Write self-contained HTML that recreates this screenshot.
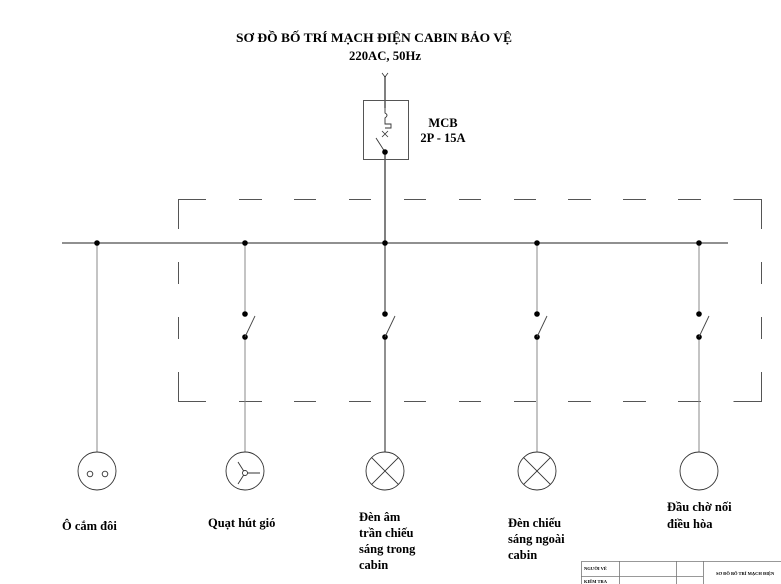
<!DOCTYPE html>
<html><head><meta charset="utf-8"><style>
html,body{margin:0;padding:0;background:#fff;width:781px;height:584px;overflow:hidden}
svg{display:block}
text{font-family:"Liberation Serif",serif;font-weight:bold;fill:#000}
</style></head><body>
<svg width="781" height="584" viewBox="0 0 781 584" xmlns="http://www.w3.org/2000/svg">
<text x="374" y="42" font-size="12.5" text-anchor="middle" textLength="276" lengthAdjust="spacingAndGlyphs">SƠ ĐỒ BỐ TRÍ MẠCH ĐIỆN CABIN BẢO VỆ</text>
<text x="385" y="60" font-size="12.5" text-anchor="middle" textLength="72" lengthAdjust="spacingAndGlyphs">220AC, 50Hz</text>
<!-- incoming -->
<path d="M382 73 L385 77 L388 73" fill="none" stroke="#333" stroke-width="0.8"/>
<line x1="385" y1="76" x2="385" y2="108" stroke="#000" stroke-width="1"/>
<line x1="385" y1="152" x2="385" y2="243" stroke="#000" stroke-width="1"/>
<rect x="363.5" y="100.5" width="45" height="59" fill="none" stroke="#555" stroke-width="1"/>
<path d="M385 108 L385 113 Q389 115 385 118 L385 124 L391 124 L391 128 L385 128" fill="none" stroke="#333" stroke-width="0.9"/>
<path d="M382 131 L388 137 M388 131 L382 137" stroke="#333" stroke-width="0.8"/>
<line x1="376" y1="138" x2="385" y2="152" stroke="#333" stroke-width="0.9"/>
<circle cx="385" cy="152" r="2.8" fill="#000"/>
<text x="443" y="127" font-size="12.5" text-anchor="middle">MCB</text>
<text x="443" y="142" font-size="12.5" text-anchor="middle">2P - 15A</text>
<!-- dashed box -->
<g stroke="#555" stroke-width="1" fill="none">
<path d="M178.5 229 L178.5 199.5 L206 199.5"/>
<path d="M239 199.5H262M294 199.5H316M349 199.5H371M404 199.5H426M459 199.5H481M514 199.5H536M568 199.5H591M623 199.5H646M678 199.5H701"/>
<path d="M733.5 199.5 L761.5 199.5 L761.5 229"/>
<path d="M178.5 372 L178.5 401.5 L206 401.5"/>
<path d="M239 401.5H262M294 401.5H316M349 401.5H371M404 401.5H426M459 401.5H481M514 401.5H536M568 401.5H591M623 401.5H646M678 401.5H701"/>
<path d="M733.5 401.5 L761.5 401.5 L761.5 372"/>
<path d="M178.5 262V284M178.5 317V339M761.5 262V284M761.5 317V339"/>
</g>
<!-- bus -->
<line x1="62" y1="243" x2="728" y2="243" stroke="#222" stroke-width="1"/>
<g stroke="#888" stroke-width="1">
<line x1="97" y1="243" x2="97" y2="452"/>
<line x1="245" y1="243" x2="245" y2="314"/><line x1="245" y1="337" x2="245" y2="452"/>
<line x1="537" y1="243" x2="537" y2="314"/><line x1="537" y1="337" x2="537" y2="452"/>
<line x1="699" y1="243" x2="699" y2="314"/><line x1="699" y1="337" x2="699" y2="452"/>
</g>
<line x1="385" y1="243" x2="385" y2="314" stroke="#222"/><line x1="385" y1="337" x2="385" y2="452" stroke="#222"/>
<g fill="#000">
<circle cx="97" cy="243" r="2.8"/><circle cx="245" cy="243" r="2.8"/><circle cx="385" cy="243" r="2.8"/><circle cx="537" cy="243" r="2.8"/><circle cx="699" cy="243" r="2.8"/>
<circle cx="245" cy="314" r="2.8"/><circle cx="245" cy="337" r="2.8"/>
<circle cx="385" cy="314" r="2.8"/><circle cx="385" cy="337" r="2.8"/>
<circle cx="537" cy="314" r="2.8"/><circle cx="537" cy="337" r="2.8"/>
<circle cx="699" cy="314" r="2.8"/><circle cx="699" cy="337" r="2.8"/>
</g>
<g stroke="#444" stroke-width="0.9">
<line x1="245" y1="337" x2="255" y2="316"/><line x1="385" y1="337" x2="395" y2="316"/>
<line x1="537" y1="337" x2="547" y2="316"/><line x1="699" y1="337" x2="709" y2="316"/>
</g>
<!-- loads -->
<g fill="none" stroke="#333" stroke-width="0.9">
<circle cx="97" cy="471" r="19"/><circle cx="90" cy="474" r="2.8"/><circle cx="105" cy="474" r="2.8"/>
<circle cx="245" cy="471" r="19"/><circle cx="245" cy="473" r="2.5"/>
<path d="M247.5 473 L260 473 M243.7 471 L238 462 M243.7 475 L238 484"/>
<circle cx="385" cy="471" r="19"/><path d="M371.6 457.6 L398.4 484.4 M398.4 457.6 L371.6 484.4"/>
<circle cx="537" cy="471" r="19"/><path d="M523.6 457.6 L550.4 484.4 M550.4 457.6 L523.6 484.4"/>
<circle cx="699" cy="471" r="19"/>
</g>
<g font-size="12.5">
<text x="62" y="530">Ô cắm đôi</text>
<text x="208" y="527">Quạt hút gió</text>
<text x="359" y="521">Đèn âm</text>
<text x="359" y="537">trần chiếu</text>
<text x="359" y="553">sáng trong</text>
<text x="359" y="569">cabin</text>
<text x="508" y="527">Đèn chiếu</text>
<text x="508" y="543">sáng ngoài</text>
<text x="508" y="559">cabin</text>
<text x="667" y="511">Đầu chờ nối</text>
<text x="667" y="528">điều hòa</text>
</g>
<!-- title block -->
<g stroke="#777" stroke-width="0.8" fill="none">
<path d="M581.5 584 L581.5 561.5 L781 561.5"/>
<line x1="619.5" y1="561" x2="619.5" y2="584"/><line x1="676.5" y1="561" x2="676.5" y2="584"/><line x1="703.5" y1="561" x2="703.5" y2="584"/>
<line x1="581" y1="576.5" x2="703" y2="576.5"/>
</g>
<text x="584" y="570" font-size="4.5">NGƯỜI VẼ</text>
<text x="584" y="583" font-size="4.5">KIỂM TRA</text>
<text x="716" y="575" font-size="4.5">SƠ ĐỒ BỐ TRÍ MẠCH ĐIỆN</text>
</svg>
</body></html>
